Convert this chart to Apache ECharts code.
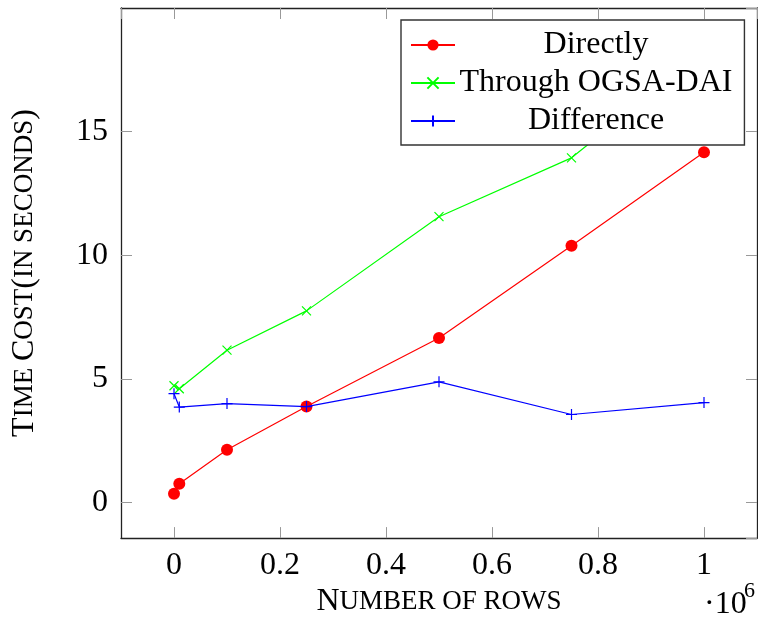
<!DOCTYPE html>
<html><head><meta charset="utf-8">
<script src="https://cdn.jsdelivr.net/npm/echarts@6/dist/echarts.min.js"></script>
<style>html,body{margin:0;padding:0;background:#fff}#c{width:758px;height:623px}</style>
</head><body><div id="c"></div>
<script>
// Data (rows; seconds)
const rows = [0, 10000, 100000, 250000, 500000, 750000, 1000000];
const directly = [0.35, 0.76, 2.13, 3.88, 6.65, 10.38, 14.17];
const throughOGSA = [4.72, 4.6, 6.16, 7.75, 11.56, 13.94, 18.22];
const difference = [4.4, 3.86, 4.0, 3.88, 4.88, 3.56, 4.04];
const seriesNames = ['Directly', 'Through OGSA-DAI', 'Difference'];

const FONT = '"Liberation Serif", "Times New Roman", serif';
const pts = ys => rows.map((r, i) => [r, ys[i]]);

const chart = echarts.init(document.getElementById('c'), null, {renderer: 'canvas'});

const frameLine = {show: true, onZero: false, lineStyle: {color: '#222', width: 1.3}};
const tick = {show: true, inside: true, length: 11, lineStyle: {color: '#999', width: 1}};

const option = {
  animation: false,
  backgroundColor: '#fff',
  grid: {left: 121, right: 1, top: 8, bottom: 82, containLabel: false},
  xAxis: [{
    type: 'value', position: 'bottom', min: -100000, max: 1100000,
    minInterval: 200000, maxInterval: 200000,
    axisLine: frameLine, axisTick: tick, splitLine: {show: false},
    axisLabel: {
      show: true, margin: 11, fontSize: 32, fontFamily: FONT, color: '#000',
      showMinLabel: false, showMaxLabel: false,
      formatter: v => String(parseFloat((v / 1e6).toFixed(2)))
    },
    name: '{a|N}{b|UMBER OF ROWS}', nameLocation: 'middle', nameGap: 45,
    nameTextStyle: {rich: {
      a: {fontSize: 32, fontFamily: FONT, color: '#000'},
      b: {fontSize: 27, fontFamily: FONT, color: '#000'}
    }}
  }, {
    type: 'value', position: 'top', min: -100000, max: 1100000,
    minInterval: 200000, maxInterval: 200000,
    axisLine: frameLine, axisTick: tick, splitLine: {show: false},
    axisLabel: {show: false}
  }],
  yAxis: [{
    type: 'value', position: 'left', min: -1.44, max: 20.0,
    minInterval: 5, maxInterval: 5,
    axisLine: frameLine, axisTick: tick, splitLine: {show: false},
    axisLabel: {
      show: true, margin: 13, fontSize: 32, fontFamily: FONT, color: '#000',
      showMinLabel: false, showMaxLabel: false
    },
    name: '{a|T}{b|IME }{a|C}{b|OST}{a|(}{b|IN SECONDS}{a|)}',
    nameLocation: 'middle', nameRotate: 90, nameGap: 80,
    nameTextStyle: {rich: {
      a: {fontSize: 32, fontFamily: FONT, color: '#000'},
      b: {fontSize: 27, fontFamily: FONT, color: '#000'}
    }}
  }, {
    type: 'value', position: 'right', min: -1.44, max: 20.0,
    minInterval: 5, maxInterval: 5,
    axisLine: frameLine, axisTick: tick, splitLine: {show: false},
    axisLabel: {show: false}
  }],
  legend: {
    orient: 'vertical', left: 401, top: 20,
    padding: [9, 12, 8, 9], itemGap: 6, itemWidth: 44, itemHeight: 14,
    backgroundColor: '#fff', borderColor: '#333', borderWidth: 1.4, borderRadius: 0,
    data: seriesNames,
    formatter: n => '{c|' + n + '}',
    textStyle: {rich: {c: {width: 272, align: 'center', fontSize: 32, fontFamily: FONT, color: '#000'}}}
  },
  series: [{
    name: seriesNames[0], type: 'line', data: pts(directly),
    symbol: 'circle', symbolSize: 12, showAllSymbol: true,
    lineStyle: {color: '#ff0000', width: 1.2},
    itemStyle: {color: '#ff0000'}, z: 2
  }, {
    name: seriesNames[1], type: 'line', data: pts(throughOGSA),
    symbol: 'path://M0,0L10,10M10,0L0,10', symbolSize: 9, showAllSymbol: true,
    lineStyle: {color: '#00ff00', width: 1.2},
    itemStyle: {color: 'rgba(0,0,0,0)', borderColor: '#00ff00', borderWidth: 1.2}, z: 3
  }, {
    name: seriesNames[2], type: 'line', data: pts(difference),
    symbol: 'path://M5,0L5,10M0,5L10,5', symbolSize: 11, showAllSymbol: true,
    lineStyle: {color: '#0000ff', width: 1.2},
    itemStyle: {color: 'rgba(0,0,0,0)', borderColor: '#0000ff', borderWidth: 1.2}, z: 4
  }],
  graphic: [
    {type: 'text', left: 704, top: 589, style: {text: '·10', font: '32px ' + FONT, fill: '#000'}},
    {type: 'text', left: 744, top: 580, style: {text: '6', font: '22px ' + FONT, fill: '#000'}}
  ]
};
chart.setOption(option);
</script></body></html>
